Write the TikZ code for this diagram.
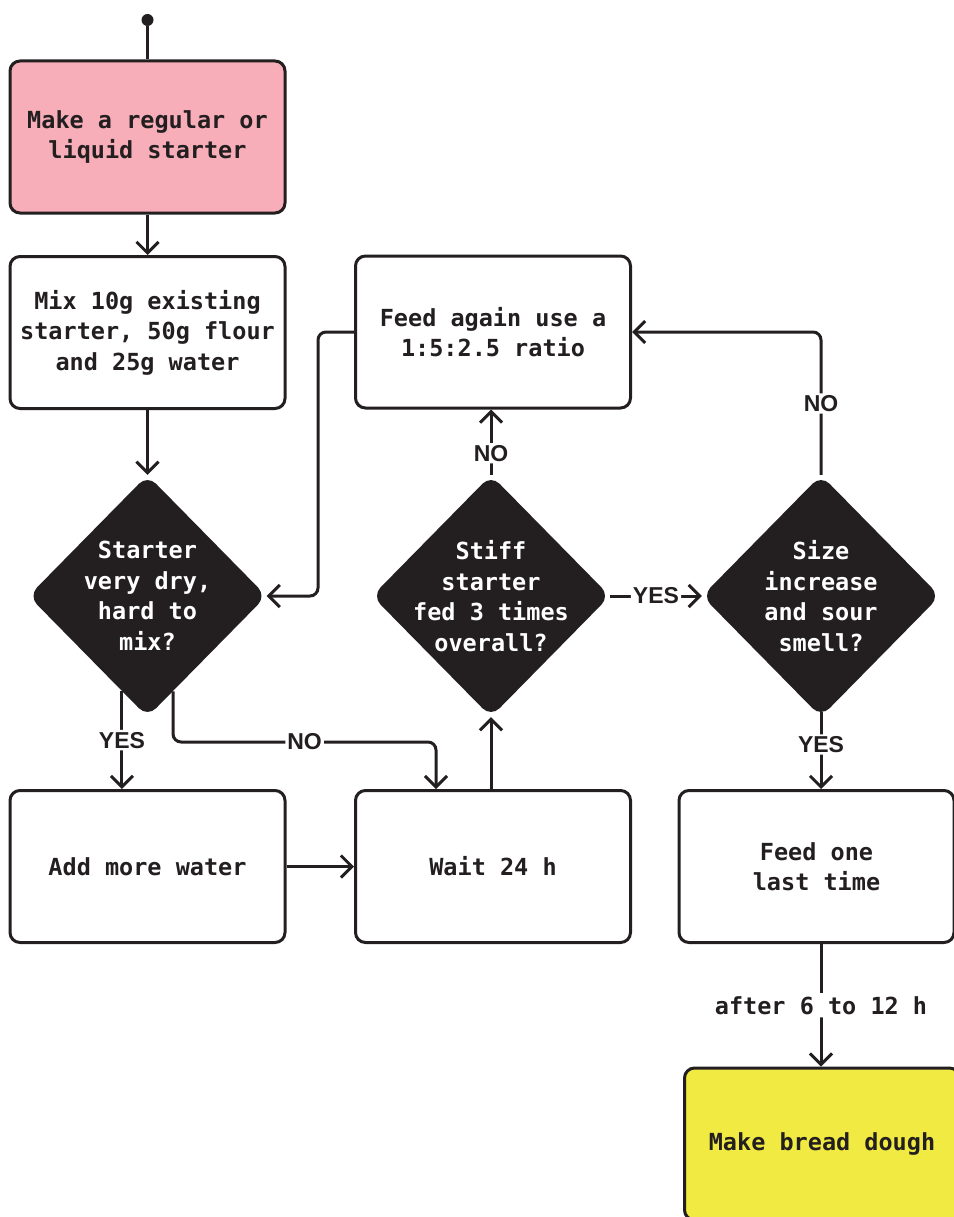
\documentclass[tikz,border=0pt]{standalone}
\usepackage{fontspec}
\setmonofont{DejaVu Sans Mono}
\setsansfont{Liberation Sans}
\usepackage{tikz}
\usetikzlibrary{arrows.meta,shapes.geometric}

\definecolor{ink}{HTML}{231F20}
\definecolor{rosepink}{HTML}{F7AEB8}
\definecolor{lemon}{HTML}{F0EA42}

\begin{document}
\begin{tikzpicture}[x=1pt,y=-1pt,
  box/.style={draw=ink, line width=3pt, rounded corners=10pt, fill=white,
    minimum width=275pt, minimum height=152pt, inner sep=0pt, align=center,
    text=ink, font=\ttfamily\bfseries\fontsize{23.5}{30.5}\selectfont},
  choice/.style={diamond, fill=ink, rounded corners=12pt, minimum width=238pt,
    minimum height=242pt, inner sep=-40pt, align=center, text=white,
    font=\ttfamily\bfseries\fontsize{23.5}{30.5}\selectfont},
  arr/.style={draw=ink, line width=3pt, rounded corners=8pt,
    -{Straight Barb[length=11pt,width=22pt]}},
  lab/.style={fill=white, inner sep=2pt, text=ink,
    font=\sffamily\bfseries\fontsize{23}{23}\selectfont},
  tlab/.style={fill=white, inner sep=3pt, text=ink,
    font=\ttfamily\bfseries\fontsize{23.5}{23.5}\selectfont}]

\useasboundingbox (0,0) rectangle (953,1217);

% boxes
\node[fill=ink, circle, inner sep=0pt, minimum size=12pt] (start) at (147.5,20) {};
\node[box, fill=rosepink] (make) at (147.5,137) {Make a regular or\\liquid starter};
\node[box] (mix) at (147.5,332.5) {Mix 10g existing\\starter, 50g flour\\and 25g water};
\node[box] (add) at (147.5,866.5) {Add more water};
\node[box] (wait) at (493,866.5) {Wait 24 h};
\node[box] (feed) at (493,332) {Feed again use a\\1:5:2.5 ratio};
\node[box] (last) at (816.5,866.5) {Feed one\\last time};
\node[box, fill=lemon] (dough) at (822,1144) {Make bread dough};

% decisions
\node[choice] (dry) at (147.5,596) {Starter\\very dry,\\hard to\\mix?};
\node[choice] (stiff) at (491,596) {Stiff\\starter\\fed 3 times\\overall?};
\node[choice] (size) at (821,596) {Size\\increase\\and sour\\smell?};

% connectors
\draw[draw=ink, line width=3pt] (start) -- (make.north);
\draw[arr] (make.south) -- (mix.north);
\draw[arr] (mix.south) -- (dry.north);
\draw[arr] (dry.255) -- node[lab]{YES} (dry.255 |- add.north);
\draw[arr] (dry.285) |- node[lab, pos=0.75]{NO} (436,742) -- ([xshift=-57pt]wait.north);
\draw[arr] (add.east) -- (wait.west);
\draw[arr] (stiff.south |- wait.north) -- (stiff.south);
\draw[arr] (stiff.north) -- node[lab, pos=0.33]{NO} (stiff.north |- feed.south);
\draw[arr] (feed.west) -- ++(-36,0) |- (dry.east);
\draw[arr] (stiff.east) -- node[lab]{YES} (size.west);
\draw[arr] (size.north) |- node[lab, pos=0.25]{NO} (feed.east);
\draw[arr] ([yshift=5pt]size.south) -- node[lab, pos=0.42]{YES} (size.south |- last.north);
\draw[arr] (size.south |- last.south) -- node[tlab]{after 6 to 12 h} (size.south |- dough.north);

\end{tikzpicture}
\end{document}
